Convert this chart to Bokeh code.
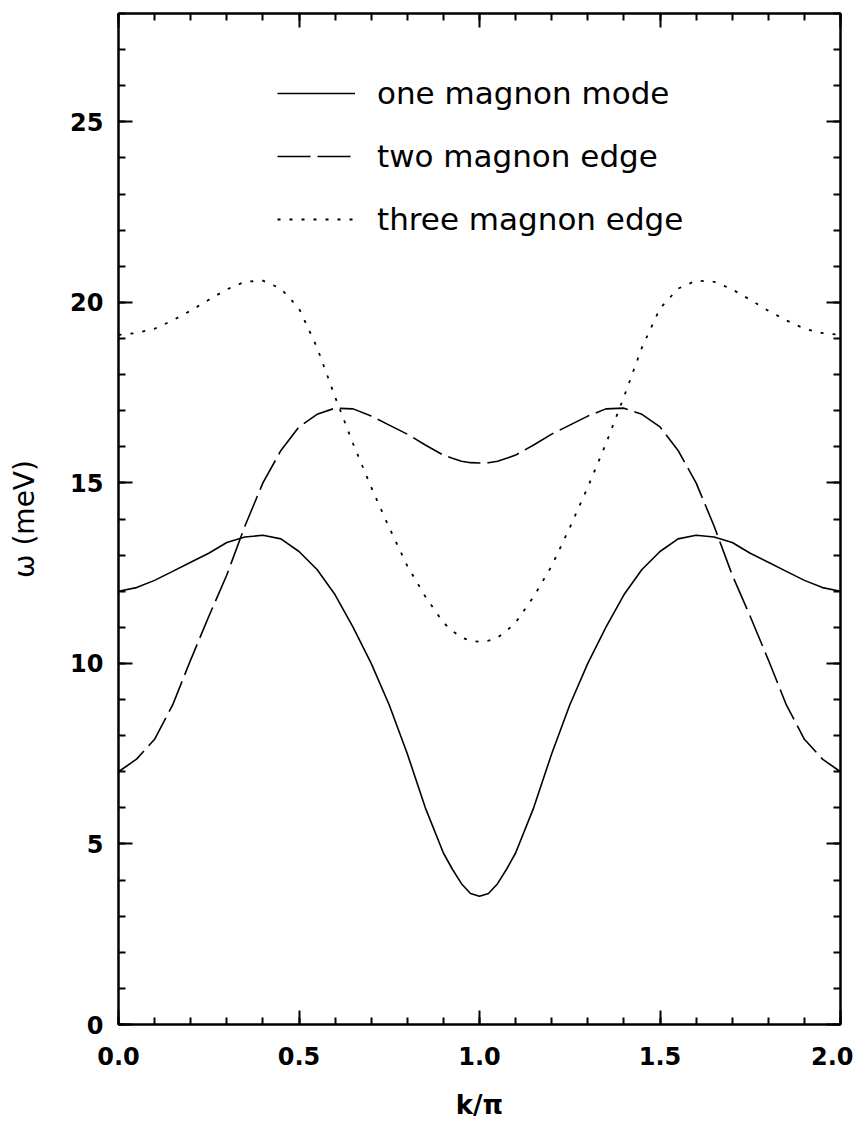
from bokeh.plotting import figure
from bokeh.models import (Range1d, LinearAxis, SingleIntervalTicker, Legend, LegendItem,
                          CustomJSTickFormatter)
from bokeh.embed import file_html
from bokeh.resources import INLINE

# ---- data ----
k = [0.00, 0.05, 0.10, 0.15, 0.20, 0.25, 0.30, 0.35, 0.40, 0.45, 0.50,
     0.55, 0.60, 0.65, 0.70, 0.75, 0.80, 0.85, 0.90, 0.925, 0.95, 0.975, 1.00,
     1.025, 1.05, 1.075, 1.10, 1.15, 1.20, 1.25, 1.30, 1.35, 1.40, 1.45, 1.50,
     1.55, 1.60, 1.65, 1.70, 1.75, 1.80, 1.85, 1.90, 1.95, 2.00]

one_magnon = [12.0, 12.1, 12.3, 12.55, 12.8, 13.05, 13.35, 13.5, 13.55, 13.45, 13.1,
              12.6, 11.9, 11.0, 10.0, 8.85, 7.5, 6.0, 4.75, 4.3, 3.9, 3.63, 3.55,
              3.63, 3.9, 4.3, 4.75, 6.0, 7.5, 8.85, 10.0, 11.0, 11.9, 12.6, 13.1,
              13.45, 13.55, 13.5, 13.35, 13.05, 12.8, 12.55, 12.3, 12.1, 12.0]

two_magnon = [7.0, 7.35, 7.9, 8.85, 10.1, 11.3, 12.45, 13.8, 15.0, 15.9, 16.55,
              16.9, 17.07, 17.05, 16.85, 16.6, 16.35, 16.05, 15.77, 15.68, 15.6, 15.56, 15.55,
              15.56, 15.6, 15.68, 15.77, 16.05, 16.35, 16.6, 16.85, 17.05, 17.07, 16.9, 16.55,
              15.9, 15.0, 13.8, 12.45, 11.3, 10.1, 8.85, 7.9, 7.35, 7.0]

three_magnon = [19.1, 19.15, 19.27, 19.5, 19.77, 20.07, 20.36, 20.57, 20.6, 20.38, 19.83,
                18.75, 17.38, 16.08, 14.88, 13.76, 12.7, 11.85, 11.13, 10.9, 10.72, 10.63, 10.6,
                10.63, 10.72, 10.9, 11.13, 11.85, 12.7, 13.76, 14.88, 16.08, 17.38, 18.75, 19.83,
                20.38, 20.6, 20.57, 20.36, 20.07, 19.77, 19.5, 19.27, 19.15, 19.1]

labels = ["one magnon mode", "two magnon edge", "three magnon edge"]
x_label = "k/\u03c0"
y_label = "\u03c9 (meV)"

FONT = "DejaVu Sans"

p = figure(width=853, height=1136, output_backend="svg", toolbar_location=None,
           x_range=Range1d(0, 2), y_range=Range1d(0, 28),
           x_axis_location=None, y_axis_location=None,
           min_border_left=118, min_border_right=13, min_border_top=13, min_border_bottom=112)
p.grid.visible = False
p.outline_line_color = "black"
p.outline_line_width = 2
p.background_fill_color = "white"
p.border_fill_color = "white"


def make_axis(ticker_interval, show_labels, label=None):
    ax = LinearAxis(ticker=SingleIntervalTicker(interval=ticker_interval, num_minor_ticks=5))
    ax.axis_line_color = "black"
    ax.axis_line_width = 2
    ax.major_tick_line_width = 2
    ax.minor_tick_line_width = 2
    ax.major_tick_in = 14
    ax.major_tick_out = 0
    ax.minor_tick_in = 7
    ax.minor_tick_out = 0
    if show_labels:
        ax.major_label_text_font = FONT
        ax.major_label_text_font_style = "bold"
        ax.major_label_text_font_size = "24px"
        ax.major_label_text_color = "black"
        ax.major_label_standoff = 20
    else:
        ax.formatter = CustomJSTickFormatter(code="return ''")
        ax.major_label_text_font_size = "0px"
        ax.major_label_standoff = 0
    if label is not None:
        ax.axis_label = label
        ax.axis_label_text_font = FONT
        ax.axis_label_text_font_size = "26px"
        ax.axis_label_text_font_style = "normal"
        ax.axis_label_text_color = "black"
    return ax


xb = make_axis(0.5, True, x_label)
xb.formatter = CustomJSTickFormatter(code="return tick.toFixed(1)")
xb.major_label_standoff = 22
xb.axis_label_standoff = 22
xb.axis_label_text_font_style = "bold"
p.add_layout(xb, "below")

yl = make_axis(5, True, y_label)
yl.major_label_standoff = 15
yl.axis_label_standoff = 26
yl.axis_label_text_font_size = "28px"
p.add_layout(yl, "left")

xt = make_axis(0.5, False)
p.add_layout(xt, "above")
yr = make_axis(5, False)
p.add_layout(yr, "right")

r1 = p.line(k, one_magnon, line_color="black", line_width=1.6)
r2 = p.line(k, two_magnon, line_color="black", line_width=1.6, line_dash="33 7")
r3 = p.line(k, three_magnon, line_color="black", line_width=1.8, line_dash="3 9")

legend = Legend(items=[LegendItem(label=labels[0], renderers=[r1]),
                       LegendItem(label=labels[1], renderers=[r2]),
                       LegendItem(label=labels[2], renderers=[r3])],
                location=(159, 787))
legend.border_line_color = None
legend.background_fill_alpha = 0
legend.glyph_width = 78
legend.glyph_height = 30
legend.label_height = 30
legend.label_standoff = 22
legend.spacing = 27
legend.padding = 0
legend.margin = 0
legend.label_text_font = FONT
legend.label_text_font_size = "31px"
legend.label_text_color = "black"
p.add_layout(legend)

open("out.html", "w").write(file_html(p, INLINE))
